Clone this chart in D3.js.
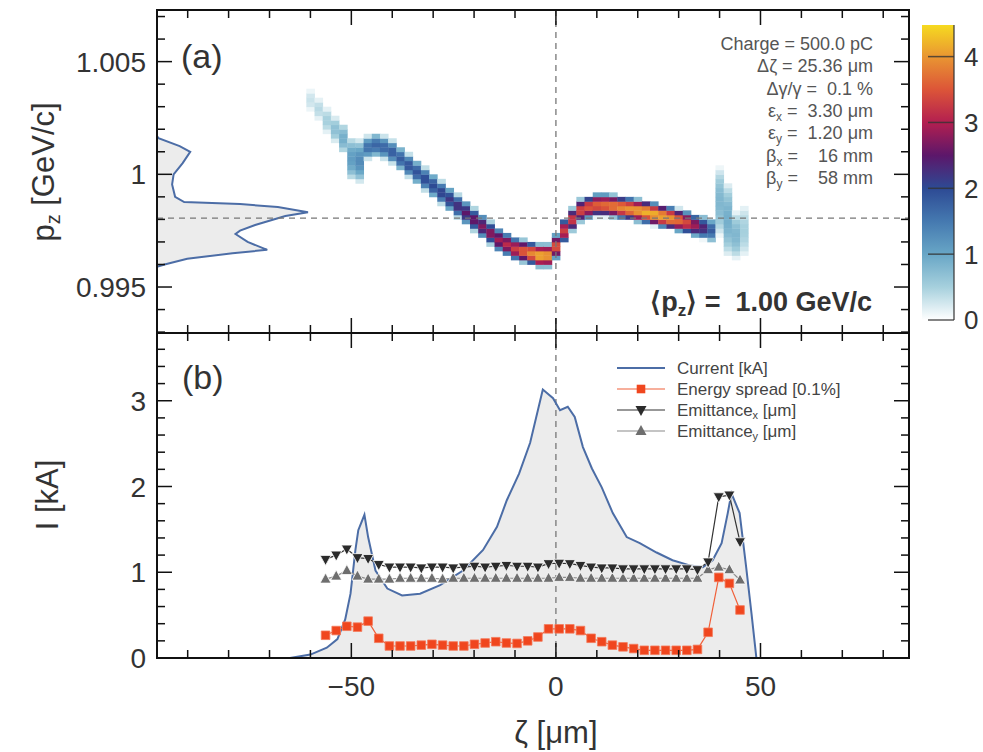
<!DOCTYPE html>
<html>
<head>
<meta charset="utf-8">
<script src="https://cdn.jsdelivr.net/npm/d3@7/dist/d3.min.js"></script>
<style>
  body { margin: 0; background: #fff; }
  text { font-family: 'Liberation Sans', Arial, Helvetica, sans-serif; }
</style>
</head>
<body>
<svg id="svg-chart" width="983" height="752"></svg>
<script>
//////////////////////////////////////////////////////////////////////////////////////////
// Data
//////////////////////////////////////////////////////////////////////////////////////////

// (a) longitudinal phase space, one column per zeta bin
var heat_zeta   = [-60, -58, -56, -54, -52, -50, -48, -46, -44, -42, -40, -38, -36, -34, -32, -30,
                   -28, -26, -24, -22, -20, -18, -16, -14, -12, -10, -8, -6, -4, -2, 0, 2, 4, 6, 8,
                   10, 12, 14, 16, 18, 20, 22, 24, 26, 28, 30, 32, 34, 36, 38, 40, 42, 44, 46]
var heat_center = [1.0033, 1.0029, 1.0024, 1.0020, 1.0016, 1.0007, 1.0006, 1.0012, 1.0013, 1.0012,
                   1.0010, 1.0007, 1.0004, 1.0001, 0.9998, 0.9995, 0.9992, 0.9989, 0.9986, 0.9983,
                   0.9980, 0.9977, 0.9974, 0.9971, 0.9969, 0.9967, 0.9966, 0.9965, 0.9964, 0.9964,
                   0.9968, 0.9975, 0.9980, 0.9984, 0.99855, 0.99864, 0.99864, 0.9986, 0.99853, 0.99847,
                   0.9984, 0.99833, 0.99824, 0.99815, 0.99806, 0.99797, 0.99786, 0.99775, 0.99764, 0.99753,
                   0.9988, 0.9980, 0.9973, 0.9975]
var heat_peak   = [0.3, 0.4, 0.5, 0.7, 0.9, 1.1, 1.3, 1.6, 1.7, 1.7, 1.8, 1.8, 1.9, 1.9, 2.0, 2.0,
                   2.1, 2.2, 2.3, 2.5, 2.6, 2.7, 2.8, 2.9, 3.1, 3.3, 3.6, 3.9, 4.2, 4.1, 3.5, 3.3, 3.3,
                   3.4, 3.5, 3.6, 3.7, 3.8, 3.9, 4.0, 4.1, 4.2, 4.2, 4.1, 4.0, 3.7, 3.4, 2.9, 2.4, 1.8,
                   0.8, 0.9, 0.8, 0.5]
var heat_half   = [0.0003, 0.0003, 0.0004, 0.0004, 0.0005, 0.0008, 0.0008, 0.00035, 0.00035, 0.00035,
                   0.00035, 0.00035, 0.00035, 0.00035, 0.00035, 0.00035, 0.00035, 0.00035, 0.00035, 0.00035,
                   0.00035, 0.00035, 0.00035, 0.00035, 0.00035, 0.00035, 0.00035, 0.00035, 0.00035, 0.00035,
                   0.0004, 0.0004, 0.00035, 0.00035, 0.00035, 0.00035, 0.00035, 0.00035, 0.00035, 0.00035,
                   0.00035, 0.00035, 0.00035, 0.00035, 0.00035, 0.00035, 0.00035, 0.00035, 0.00035, 0.00035,
                   0.0014, 0.0015, 0.0009, 0.0010]

// (a) projected momentum spectrum (arbitrary units)
var spec_pz    = [1.0017, 1.0016, 1.00125, 1.0010, 1.0005, 1.0000, 0.99955, 0.9990, 0.99877, 0.99868,
                  0.99855, 0.99832, 0.99815, 0.99795, 0.99775, 0.9975, 0.99735, 0.9970, 0.99665,
                  0.9965, 0.99625, 0.9960, 0.9959]
var spec_count = [0, 0.01, 0.15, 0.22, 0.17, 0.11, 0.10, 0.12, 0.18, 0.55, 0.8, 1.0, 0.85, 0.75,
                  0.65, 0.55, 0.52, 0.6, 0.73, 0.5, 0.2, 0.05, 0]

// (b) current profile
var cur_zeta  = [-97.5, -70, -65, -60, -56, -53.4, -51.5, -50.2, -49, -48.3, -46.8, -45.9, -44.1,
                 -41.2, -37.6, -33.2, -28.3, -22.7, -17.8, -14.4, -12, -9, -6.3, -3.2, -0.7, 1,
                 2.9, 4.6, 6.6, 8.8, 11.2, 13.9, 17.3, 20.5, 24.6, 28.5, 32.7, 35.9, 38.3, 40.5,
                 42, 42.9, 44.9, 46.5, 47.8, 49, 86.3]
var current   = [0, 0, 0, 0.04, 0.12, 0.22, 0.45, 0.75, 1.26, 1.49, 1.67, 1.41, 1.02, 0.81, 0.73,
                 0.75, 0.85, 1.02, 1.26, 1.53, 1.84, 2.15, 2.51, 3.13, 3.03, 2.89, 2.93, 2.81, 2.46,
                 2.21, 1.99, 1.69, 1.41, 1.34, 1.23, 1.14, 1.08, 1.06, 1.14, 1.34, 1.69, 1.92, 1.69,
                 1.06, 0.52, 0, 0]

// (b) slice quantities
var slice_zeta = [-56.3, -53.7, -51.1, -48.5, -45.9, -43.3, -40.7, -38.1, -35.5, -32.9, -30.3,
                  -27.7, -25.1, -22.5, -19.9, -17.3, -14.7, -12.1, -9.5, -6.9, -4.4, -1.8, 0.8,
                  3.4, 6.0, 8.6, 11.2, 13.8, 16.4, 19.0, 21.6, 24.2, 26.8, 29.4, 32.0, 34.6, 37.2,
                  39.8, 42.4, 45.0]
var espread    = [0.265, 0.32, 0.37, 0.36, 0.43, 0.23, 0.14, 0.14, 0.14, 0.15, 0.16, 0.15, 0.14,
                  0.14, 0.16, 0.175, 0.19, 0.175, 0.17, 0.2, 0.245, 0.34, 0.34, 0.34, 0.32, 0.23,
                  0.19, 0.15, 0.13, 0.11, 0.09, 0.09, 0.09, 0.09, 0.09, 0.1, 0.30, 0.94, 0.87, 0.56]
var emit_x     = [1.15, 1.2, 1.27, 1.17, 1.16, 1.09, 1.06, 1.06, 1.06, 1.05, 1.06, 1.06, 1.05,
                  1.06, 1.07, 1.06, 1.07, 1.08, 1.07, 1.07, 1.06, 1.10, 1.105, 1.10, 1.08, 1.06,
                  1.05, 1.05, 1.04, 1.04, 1.04, 1.04, 1.04, 1.04, 1.04, 1.03, 1.12, 1.88, 1.90, 1.355]
var emit_y     = [0.92, 0.955, 1.02, 0.955, 0.92, 0.92, 0.92, 0.93, 0.93, 0.93, 0.93, 0.92, 0.93,
                  0.93, 0.93, 0.93, 0.93, 0.93, 0.93, 0.93, 0.93, 0.93, 0.94, 0.94, 0.93, 0.93,
                  0.93, 0.93, 0.93, 0.93, 0.93, 0.93, 0.93, 0.93, 0.93, 0.93, 1.03, 1.06, 1.03, 0.91]

// colour map
var cmap_levels = [0, 0.5, 1, 1.5, 2, 2.5, 3, 3.5, 4, 4.48]
var cmap_colors = ['#ffffff', '#a6d0dd', '#68a6c6', '#4579b0', '#2d4a94', '#5c176a', '#b31f50',
                   '#dc5538', '#e99632', '#f6da20']

// ticks
var x_major = [-50, 0, 50]
var x_minor = [-90, -80, -70, -60, -40, -30, -20, -10, 10, 20, 30, 40, 60, 70, 80]
var pz_major = [0.995, 1, 1.005]
var pz_major_labels = ['0.995', '1', '1.005']
var pz_minor = [0.993, 0.994, 0.996, 0.997, 0.998, 0.999, 1.001, 1.002, 1.003, 1.004, 1.006, 1.007]
var cur_major = [0, 1, 2, 3]
var cur_minor = [0.2, 0.4, 0.6, 0.8, 1.2, 1.4, 1.6, 1.8, 2.2, 2.4, 2.6, 2.8, 3.2, 3.4, 3.6]
var cbar_ticks = [0, 1, 2, 3, 4]

var mean_pz = 0.99806

//////////////////////////////////////////////////////////////////////////////////////////
// Scales
//////////////////////////////////////////////////////////////////////////////////////////

var svg = d3.select('#svg-chart')
var left = 157, right = 909
var top_a = 10, mid = 333, bottom_b = 658

var x = d3.scaleLinear().domain([-97.5, 86.3]).range([left, right])
var y_pz = d3.scaleLinear().domain([0.99296, 1.00729]).range([mid, top_a])
var y_cur = d3.scaleLinear().domain([0, 3.79]).range([bottom_b, mid])
var y_cbar = d3.scaleLinear().domain([0, 4.48]).range([320, 25])
var x_spec = d3.scaleLinear().domain([0, 1]).range([left, left + 151])
var color = d3.scaleLinear().domain(cmap_levels).range(cmap_colors).interpolate(d3.interpolateRgb)

var pz_origin = 0.993, pz_bin = 0.0002, zeta_bin = 2

svg.append('defs').append('clipPath').attr('id', 'clip-a')
  .append('rect').attr('x', left).attr('y', top_a).attr('width', right - left).attr('height', mid - top_a)
svg.select('defs').append('clipPath').attr('id', 'clip-b')
  .append('rect').attr('x', left).attr('y', mid).attr('width', right - left).attr('height', bottom_b - mid)

//////////////////////////////////////////////////////////////////////////////////////////
// Panel (a)
//////////////////////////////////////////////////////////////////////////////////////////

var g_a = svg.append('g').attr('clip-path', 'url(#clip-a)')

// spectrum on the left
var spec = spec_pz.map(function(d, i) { return {pz: d, n: spec_count[i]} })
g_a.append('path')
  .datum(spec)
  .attr('fill', '#ececec')
  .attr('stroke', 'none')
  .attr('d', d3.area().x0(x_spec(0)).x1(function(d) { return x_spec(d.n) }).y(function(d) { return y_pz(d.pz) }))
g_a.append('path')
  .datum(spec)
  .attr('fill', 'none')
  .attr('stroke', '#4c6da6')
  .attr('stroke-width', 2)
  .attr('d', d3.line().x(function(d) { return x_spec(d.n) }).y(function(d) { return y_pz(d.pz) }))

// heat map cells
var cells = []
heat_zeta.forEach(function(z, i) {
  var c = heat_center[i], p = heat_peak[i], reach = heat_half[i] + 0.0002
  var k0 = Math.floor((c - reach - pz_origin) / pz_bin)
  var k1 = Math.floor((c + reach - pz_origin) / pz_bin)
  for (var k = k0; k <= k1; k++) {
    var lo = pz_origin + k * pz_bin
    var r = Math.abs(lo + pz_bin / 2 - c) / reach
    var v = p * (1 - r * r)
    if (v > 0.05) cells.push({z: z, lo: lo, v: v})
  }
})

g_a.selectAll('.heat-cell')
  .data(cells)
  .enter()
  .append('rect')
  .attr('class', 'heat-cell')
  .attr('x', function(d) { return x(d.z - zeta_bin / 2) })
  .attr('width', function(d) { return x(d.z + zeta_bin / 2) - x(d.z - zeta_bin / 2) + 0.4 })
  .attr('y', function(d) { return y_pz(d.lo + pz_bin) })
  .attr('height', function(d) { return y_pz(d.lo) - y_pz(d.lo + pz_bin) + 0.4 })
  .attr('fill', function(d) { return color(d.v) })

// guide lines
g_a.append('line')
  .attr('x1', left).attr('x2', right)
  .attr('y1', y_pz(mean_pz)).attr('y2', y_pz(mean_pz))
  .attr('stroke', '#777').attr('stroke-width', 1.3).attr('stroke-dasharray', '6,5')
g_a.append('line')
  .attr('x1', x(0)).attr('x2', x(0))
  .attr('y1', top_a).attr('y2', mid)
  .attr('stroke', '#777').attr('stroke-width', 1.3).attr('stroke-dasharray', '6,5')

svg.append('text')
  .attr('x', 181).attr('y', 68)
  .attr('font-size', 34).attr('fill', '#333')
  .text('(a)')

// beam parameters
var params = [
  [['Charge = 500.0 pC']],
  [['\u0394\u03b6 = 25.36 \u03bcm']],
  [['\u0394\u03b3/\u03b3 =  0.1 %']],
  [['\u03b5'], ['x', 'sub'], [' =  3.30 \u03bcm']],
  [['\u03b5'], ['y', 'sub'], [' =  1.20 \u03bcm']],
  [['\u03b2'], ['x', 'sub'], [' =    16 mm']],
  [['\u03b2'], ['y', 'sub'], [' =    58 mm']]
]
svg.selectAll('.param-text')
  .data(params)
  .enter()
  .append('text')
  .attr('class', 'param-text')
  .attr('x', 873)
  .attr('y', function(d, i) { return 50 + i * 22.3 })
  .attr('text-anchor', 'end')
  .attr('font-size', 18)
  .attr('fill', '#555')
  .style('white-space', 'pre')
  .each(function(parts) {
    var t = d3.select(this)
    parts.forEach(function(p) {
      var s = t.append('tspan').text(p[0])
      if (p[1] == 'sub') s.attr('font-size', 12).attr('baseline-shift', '-30%')
    })
  })

var mean_text = svg.append('text')
  .attr('x', 872).attr('y', 311)
  .attr('text-anchor', 'end')
  .attr('font-size', 27).attr('font-weight', 'bold').attr('fill', '#333')
  .style('white-space', 'pre')
mean_text.append('tspan').text('\u27e8p')
mean_text.append('tspan').text('z').attr('font-size', 17).attr('baseline-shift', '-30%')
mean_text.append('tspan').text('\u27e9 =  1.00 GeV/c')

//////////////////////////////////////////////////////////////////////////////////////////
// Panel (b)
//////////////////////////////////////////////////////////////////////////////////////////

var g_b = svg.append('g').attr('clip-path', 'url(#clip-b)')
var cur = cur_zeta.map(function(d, i) { return {z: d, v: current[i]} })

g_b.append('path')
  .datum(cur)
  .attr('fill', '#ececec')
  .attr('d', d3.area().x(function(d) { return x(d.z) }).y0(y_cur(0)).y1(function(d) { return y_cur(d.v) }))

g_b.append('line')
  .attr('x1', x(0)).attr('x2', x(0))
  .attr('y1', mid).attr('y2', bottom_b)
  .attr('stroke', '#777').attr('stroke-width', 1.3).attr('stroke-dasharray', '6,5')

g_b.append('path')
  .datum(cur)
  .attr('fill', 'none')
  .attr('stroke', '#4c6da6')
  .attr('stroke-width', 2)
  .attr('d', d3.line().x(function(d) { return x(d.z) }).y(function(d) { return y_cur(d.v) }))

var series = [
  {id: 'emit-y', values: emit_y, line: '#8a8a8a', fill: '#6e6e6e', marker: 'up'},
  {id: 'emit-x', values: emit_x, line: '#333', fill: '#2b2b2b', marker: 'down'},
  {id: 'espread', values: espread, line: '#f0603a', fill: '#f0461e', marker: 'square'}
]

function marker_path(type) {
  if (type == 'square') return 'M-4.3,-4.3H4.3V4.3H-4.3Z'
  if (type == 'up') return 'M0,-6L5.5,4H-5.5Z'
  return 'M0,6L5.5,-4H-5.5Z'
}

series.forEach(function(s) {
  var pts = slice_zeta.map(function(z, i) { return {z: z, v: s.values[i]} })
  g_b.append('path')
    .datum(pts)
    .attr('fill', 'none')
    .attr('stroke', s.line)
    .attr('stroke-width', 1.2)
    .attr('d', d3.line().x(function(d) { return x(d.z) }).y(function(d) { return y_cur(d.v) }))
  g_b.selectAll('.mk-' + s.id)
    .data(pts)
    .enter()
    .append('path')
    .attr('class', 'mk-' + s.id)
    .attr('transform', function(d) { return 'translate(' + x(d.z) + ',' + y_cur(d.v) + ')' })
    .attr('d', marker_path(s.marker))
    .attr('fill', s.fill)
    .attr('stroke', s.marker == 'square' ? '#f47a5a' : '#fff')
    .attr('stroke-width', 0.8)
})

svg.append('text')
  .attr('x', 182).attr('y', 389)
  .attr('font-size', 34).attr('fill', '#333')
  .text('(b)')

// legend
var legend = [
  {label: [['Current [kA]']], line: '#4c6da6', width: 2, marker: null},
  {label: [['Energy spread [0.1%]']], line: '#f0603a', fill: '#f0461e', width: 1.2, marker: 'square'},
  {label: [['Emittance'], ['x', 'sub'], [' [\u03bcm]']], line: '#333', fill: '#2b2b2b', width: 1.2, marker: 'down'},
  {label: [['Emittance'], ['y', 'sub'], [' [\u03bcm]']], line: '#8a8a8a', fill: '#6e6e6e', width: 1.2, marker: 'up'}
]
var g_leg = svg.append('g')
legend.forEach(function(d, i) {
  var yy = 368 + i * 21
  g_leg.append('line')
    .attr('x1', 617).attr('x2', 665).attr('y1', yy).attr('y2', yy)
    .attr('stroke', d.line).attr('stroke-width', d.width)
  if (d.marker) {
    g_leg.append('path')
      .attr('transform', 'translate(641,' + yy + ')')
      .attr('d', marker_path(d.marker))
      .attr('fill', d.fill)
  }
  var t = g_leg.append('text')
    .attr('x', 677).attr('y', yy).attr('dy', '0.35em')
    .attr('font-size', 17).attr('fill', '#444')
  d.label.forEach(function(p) {
    var s = t.append('tspan').text(p[0])
    if (p[1] == 'sub') s.attr('font-size', 11).attr('baseline-shift', '-30%')
  })
})

//////////////////////////////////////////////////////////////////////////////////////////
// Frames, ticks and labels
//////////////////////////////////////////////////////////////////////////////////////////

function h_ticks(values, y0, len) {
  svg.append('g').selectAll('line')
    .data(values)
    .enter()
    .append('line')
    .attr('x1', function(d) { return x(d) }).attr('x2', function(d) { return x(d) })
    .attr('y1', y0).attr('y2', y0 + len)
    .attr('stroke', '#111').attr('stroke-width', 1.5)
}

function v_ticks(values, scale, len) {
  svg.append('g').selectAll('line')
    .data(values)
    .enter()
    .append('line')
    .attr('y1', function(d) { return scale(d) }).attr('y2', function(d) { return scale(d) })
    .attr('x1', left).attr('x2', left + len)
    .attr('stroke', '#111').attr('stroke-width', 1.5)
  svg.append('g').selectAll('line')
    .data(values)
    .enter()
    .append('line')
    .attr('y1', function(d) { return scale(d) }).attr('y2', function(d) { return scale(d) })
    .attr('x1', right).attr('x2', right - len)
    .attr('stroke', '#111').attr('stroke-width', 1.5)
}

h_ticks(x_major, top_a, 15); h_ticks(x_minor, top_a, 8)
h_ticks(x_major, mid, -15); h_ticks(x_minor, mid, -8)
h_ticks(x_major, mid, 15); h_ticks(x_minor, mid, 8)
h_ticks(x_major, bottom_b, -15); h_ticks(x_minor, bottom_b, -8)
v_ticks(pz_major, y_pz, 15); v_ticks(pz_minor, y_pz, 8)
v_ticks(cur_major, y_cur, 15); v_ticks(cur_minor, y_cur, 8)

svg.append('rect')
  .attr('x', left).attr('y', top_a).attr('width', right - left).attr('height', bottom_b - top_a)
  .attr('fill', 'none').attr('stroke', '#111').attr('stroke-width', 2)
svg.append('line')
  .attr('x1', left).attr('x2', right).attr('y1', mid).attr('y2', mid)
  .attr('stroke', '#111').attr('stroke-width', 2)

svg.append('g').selectAll('text')
  .data(pz_major)
  .enter()
  .append('text')
  .attr('x', 146).attr('y', function(d) { return y_pz(d) }).attr('dy', '0.36em')
  .attr('text-anchor', 'end').attr('font-size', 28).attr('fill', '#333')
  .text(function(d, i) { return pz_major_labels[i] })

svg.append('g').selectAll('text')
  .data(cur_major)
  .enter()
  .append('text')
  .attr('x', 146).attr('y', function(d) { return y_cur(d) }).attr('dy', '0.36em')
  .attr('text-anchor', 'end').attr('font-size', 28).attr('fill', '#333')
  .text(function(d) { return d })

svg.append('g').selectAll('text')
  .data(x_major)
  .enter()
  .append('text')
  .attr('x', function(d) { return x(d) }).attr('y', 696)
  .attr('text-anchor', 'middle').attr('font-size', 28).attr('fill', '#333')
  .text(function(d) { return d < 0 ? '\u2212' + Math.abs(d) : d })

svg.append('text')
  .attr('x', x(0)).attr('y', 743)
  .attr('text-anchor', 'middle').attr('font-size', 31).attr('fill', '#333')
  .text('\u03b6 [\u03bcm]')

var pz_title = svg.append('text')
  .attr('transform', 'translate(54,172) rotate(-90)')
  .attr('text-anchor', 'middle').attr('font-size', 31).attr('fill', '#333')
pz_title.append('tspan').text('p')
pz_title.append('tspan').text('z').attr('font-size', 20).attr('baseline-shift', '-30%')
pz_title.append('tspan').text(' [GeV/c]')

svg.append('text')
  .attr('transform', 'translate(58,495) rotate(-90)')
  .attr('text-anchor', 'middle').attr('font-size', 31).attr('fill', '#333')
  .text('I [kA]')

//////////////////////////////////////////////////////////////////////////////////////////
// Colour bar
//////////////////////////////////////////////////////////////////////////////////////////

var grad = svg.select('defs').append('linearGradient')
  .attr('id', 'cbar-grad')
  .attr('x1', 0).attr('y1', 1).attr('x2', 0).attr('y2', 0)
grad.selectAll('stop')
  .data(cmap_levels)
  .enter()
  .append('stop')
  .attr('offset', function(d) { return d / 4.48 })
  .attr('stop-color', function(d, i) { return cmap_colors[i] })

svg.append('rect')
  .attr('x', 922).attr('y', y_cbar(4.48))
  .attr('width', 32).attr('height', y_cbar(0) - y_cbar(4.48))
  .attr('fill', 'url(#cbar-grad)')
svg.append('line')
  .attr('x1', 954).attr('x2', 954).attr('y1', y_cbar(4.48)).attr('y2', y_cbar(0))
  .attr('stroke', '#333').attr('stroke-width', 1.2)
svg.append('g').selectAll('line')
  .data(cbar_ticks)
  .enter()
  .append('line')
  .attr('x1', 928).attr('x2', 954)
  .attr('y1', function(d) { return y_cbar(d) }).attr('y2', function(d) { return y_cbar(d) })
  .attr('stroke', '#333').attr('stroke-opacity', 0.8).attr('stroke-width', 1.5)
svg.append('g').selectAll('text')
  .data(cbar_ticks)
  .enter()
  .append('text')
  .attr('x', 964).attr('y', function(d) { return y_cbar(d) }).attr('dy', '0.36em')
  .attr('font-size', 26).attr('fill', '#333')
  .text(function(d) { return d })
</script>
</body>
</html>
